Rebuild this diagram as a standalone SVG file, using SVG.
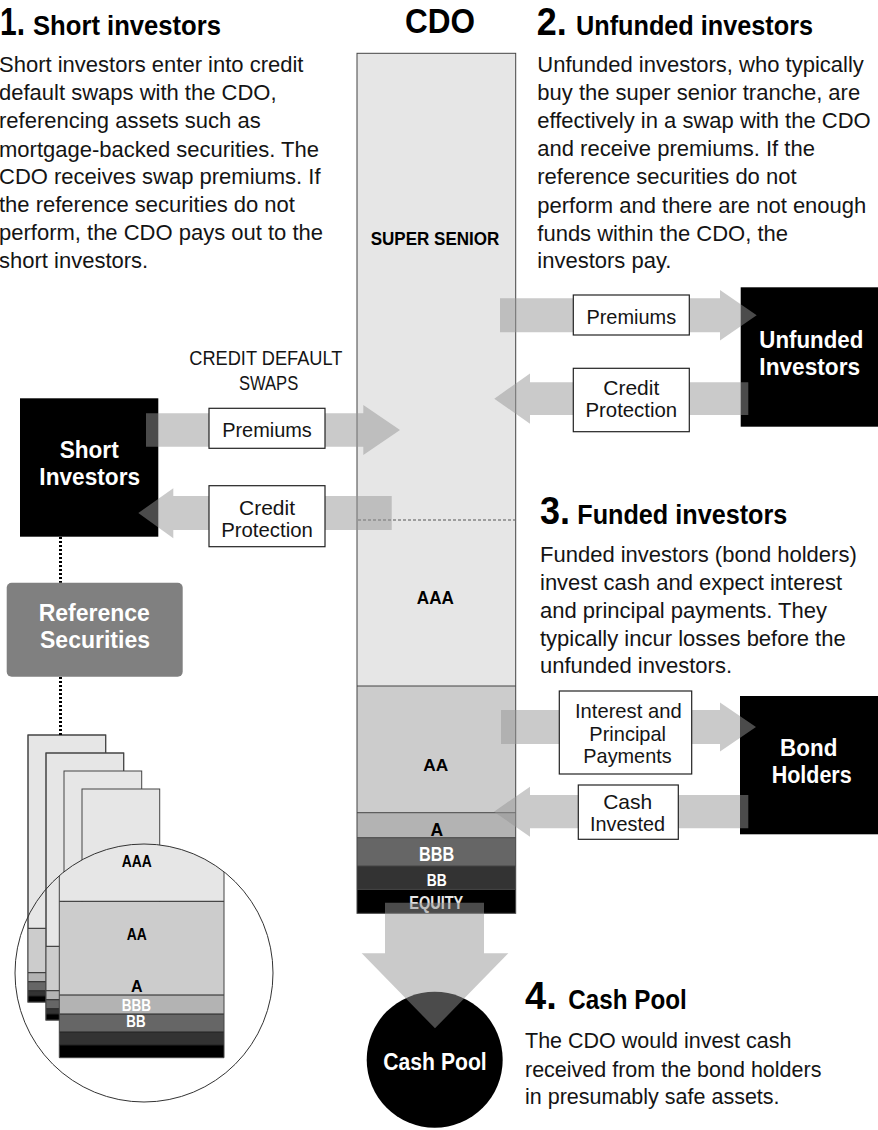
<svg xmlns="http://www.w3.org/2000/svg" width="878" height="1130" viewBox="0 0 878 1130">
<defs>
<style>
.body{font-family:"Liberation Sans",Arial,sans-serif;font-size:22px;fill:#141414}
.head{font-family:"Liberation Sans",Arial,sans-serif;font-weight:bold;font-size:28px;fill:#000}
.num{font-family:"Liberation Sans",Arial,sans-serif;font-weight:bold;font-size:38px;fill:#000}
.lbl{font-family:"Liberation Sans",Arial,sans-serif;font-size:21px;fill:#141414;text-anchor:middle}
.caps{font-family:"Liberation Sans",Arial,sans-serif;font-size:20px;fill:#141414;text-anchor:middle}
.nt{font-family:"Liberation Sans",Arial,sans-serif;font-weight:bold;font-size:23px;fill:#fff;text-anchor:middle}
.tr{font-family:"Liberation Sans",Arial,sans-serif;font-weight:bold;text-anchor:middle;fill:#000}
.arrow{fill:#969696;fill-opacity:0.5}
.lbox{fill:#fff;stroke:#222;stroke-width:1.2}
.tline{stroke:#444;stroke-width:1;fill:none}
.pg{stroke:#444;stroke-width:1;fill:#e6e6e6}
.dots{stroke:#000;stroke-width:3;stroke-dasharray:2 2;fill:none}
</style>
<clipPath id="lens"><circle cx="144" cy="973" r="129"/></clipPath>
</defs>
<rect width="878" height="1130" fill="#fff"/>

<g id="section1">
<text class="num" x="0" y="35" textLength="25" lengthAdjust="spacingAndGlyphs">1.</text>
<text class="head" x="33" y="35" textLength="188" lengthAdjust="spacingAndGlyphs">Short investors</text>
<text class="body">
<tspan x="-1" y="71.7">Short investors enter into credit</tspan>
<tspan x="-1" y="100">default swaps with the CDO,</tspan>
<tspan x="-1" y="128.3">referencing assets such as</tspan>
<tspan x="-1" y="156.7">mortgage-backed securities. The</tspan>
<tspan x="-1" y="184.3">CDO receives swap premiums. If</tspan>
<tspan x="-1" y="212.3">the reference securities do not</tspan>
<tspan x="-1" y="240.3">perform, the CDO pays out to the</tspan>
<tspan x="-1" y="268.3">short investors.</tspan>
</text>
</g>

<g id="section2">
<text class="num" x="536.7" y="35" textLength="30" lengthAdjust="spacingAndGlyphs">2.</text>
<text class="head" x="576" y="35" textLength="237" lengthAdjust="spacingAndGlyphs">Unfunded investors</text>
<text class="body">
<tspan x="537.3" y="71.7">Unfunded investors, who typically</tspan>
<tspan x="537.3" y="100">buy the super senior tranche, are</tspan>
<tspan x="537.3" y="128.3">effectively in a swap with the CDO</tspan>
<tspan x="537.3" y="156.3">and receive premiums. If the</tspan>
<tspan x="537.3" y="184.3">reference securities do not</tspan>
<tspan x="537.3" y="212.7">perform and there are not enough</tspan>
<tspan x="537.3" y="240.7">funds within the CDO, the</tspan>
<tspan x="537.3" y="268.3">investors pay.</tspan>
</text>
</g>

<g id="section3">
<text class="num" x="540" y="524.3" textLength="30" lengthAdjust="spacingAndGlyphs">3.</text>
<text class="head" x="577.3" y="524.3" textLength="210" lengthAdjust="spacingAndGlyphs">Funded investors</text>
<text class="body">
<tspan x="540" y="561.7">Funded investors (bond holders)</tspan>
<tspan x="540" y="590">invest cash and expect interest</tspan>
<tspan x="540" y="618.3">and principal payments. They</tspan>
<tspan x="540" y="645.7">typically incur losses before the</tspan>
<tspan x="540" y="673.3">unfunded investors.</tspan>
</text>
</g>

<g id="section4">
<text class="num" x="525" y="1009.3" textLength="31.7" lengthAdjust="spacingAndGlyphs">4.</text>
<text class="head" x="568.3" y="1009.3" textLength="118.4" lengthAdjust="spacingAndGlyphs">Cash Pool</text>
<text class="body" style="font-size:21.5px">
<tspan x="525" y="1048.3">The CDO would invest cash</tspan>
<tspan x="525" y="1076.5">received from the bond holders</tspan>
<tspan x="525" y="1104.3">in presumably safe assets.</tspan>
</text>
</g>

<g id="cdo">
<text class="head" x="405" y="33.3" style="font-size:35px" textLength="70" lengthAdjust="spacingAndGlyphs">CDO</text>
<rect x="357" y="53.3" width="158.7" height="632.7" fill="#e6e6e6"/>
<rect x="357" y="686" width="158.7" height="126.7" fill="#cccccc"/>
<rect x="357" y="812.7" width="158.7" height="25" fill="#b3b3b3"/>
<rect x="357" y="837.7" width="158.7" height="28.3" fill="#666666"/>
<rect x="357" y="866" width="158.7" height="23.3" fill="#333333"/>
<rect x="357" y="889.3" width="158.7" height="24" fill="#000000"/>
<line class="tline" x1="357" y1="686" x2="515.7" y2="686"/>
<line class="tline" x1="357" y1="812.7" x2="515.7" y2="812.7"/>
<line class="tline" x1="357" y1="837.7" x2="515.7" y2="837.7"/>
<line class="tline" x1="357" y1="866" x2="515.7" y2="866"/>
<line class="tline" x1="357" y1="889.3" x2="515.7" y2="889.3"/>
<line x1="358" y1="520" x2="515" y2="520" stroke="#555" stroke-width="1" stroke-dasharray="3 2"/>
<rect class="tline" x="357" y="53.3" width="158.7" height="860"/>
<text class="tr" x="435" y="245" style="font-size:19px" textLength="128.6" lengthAdjust="spacingAndGlyphs">SUPER SENIOR</text>
<text class="tr" x="435.3" y="604.3" style="font-size:19px" textLength="37" lengthAdjust="spacingAndGlyphs">AAA</text>
<text class="tr" x="435.8" y="771" style="font-size:17px" textLength="25" lengthAdjust="spacingAndGlyphs">AA</text>
<text class="tr" x="436.7" y="836" style="font-size:17.5px">A</text>
<text class="tr" x="436.7" y="861" style="font-size:20px;fill:#fff" textLength="35.3" lengthAdjust="spacingAndGlyphs">BBB</text>
<text class="tr" x="436.7" y="885.7" style="font-size:17px;fill:#fff" textLength="20" lengthAdjust="spacingAndGlyphs">BB</text>
<text class="tr" x="436.3" y="909.3" style="font-size:18.5px;fill:#e6e6e6" textLength="54" lengthAdjust="spacingAndGlyphs">EQUITY</text>
</g>

<g id="short-investors">
<rect x="20" y="398.3" width="138.3" height="138.4" fill="#000"/>
<text class="nt" x="89.2" y="458.3" textLength="59" lengthAdjust="spacingAndGlyphs">Short</text>
<text class="nt" x="89.7" y="485" textLength="100.7" lengthAdjust="spacingAndGlyphs">Investors</text>
</g>

<g id="unfunded-investors">
<rect x="740.7" y="287.3" width="137.3" height="139.4" fill="#000"/>
<text class="nt" x="811.3" y="348.3" textLength="104" lengthAdjust="spacingAndGlyphs">Unfunded</text>
<text class="nt" x="809.7" y="375" textLength="100.7" lengthAdjust="spacingAndGlyphs">Investors</text>
</g>

<g id="bond-holders">
<rect x="740" y="696" width="138" height="138.3" fill="#000"/>
<text class="nt" x="808.7" y="756" textLength="57.3" lengthAdjust="spacingAndGlyphs">Bond</text>
<text class="nt" x="811.7" y="782.7" textLength="80" lengthAdjust="spacingAndGlyphs">Holders</text>
</g>

<g id="reference-securities">
<rect x="6.7" y="582.7" width="176" height="94" rx="5" fill="#808080"/>
<text class="nt" x="94.3" y="621">Reference</text>
<text class="nt" x="95" y="648.3">Securities</text>
</g>

<g id="cash-pool">
<circle cx="434.7" cy="1059.7" r="68" fill="#000"/>
<text class="nt" x="435" y="1070" textLength="103.4" lengthAdjust="spacingAndGlyphs">Cash Pool</text>
</g>

<g id="pool-securities">
<g>
<rect class="pg" x="28" y="735" width="77.7" height="267"/>
<rect x="28" y="928.3" width="77.7" height="44.4" fill="#cccccc"/>
<rect x="28" y="972.7" width="77.7" height="9" fill="#b3b3b3"/>
<rect x="28" y="981.7" width="77.7" height="9" fill="#666666"/>
<rect x="28" y="990.7" width="77.7" height="5.3" fill="#333333"/>
<rect x="28" y="996" width="77.7" height="6" fill="#000"/>
<path d="M28 928.3H105.7M28 972.7H105.7M28 981.7H105.7M28 990.7H105.7M28 996H105.7" stroke="#222" stroke-width="1" fill="none"/>
<rect x="28" y="735" width="77.7" height="267" fill="none" stroke="#444" stroke-width="1"/>
</g>
<g>
<rect class="pg" x="46" y="753" width="77.7" height="267"/>
<rect x="46" y="946.3" width="77.7" height="44.4" fill="#cccccc"/>
<rect x="46" y="990.7" width="77.7" height="9" fill="#b3b3b3"/>
<rect x="46" y="999.7" width="77.7" height="9" fill="#666666"/>
<rect x="46" y="1008.7" width="77.7" height="5.3" fill="#333333"/>
<rect x="46" y="1014" width="77.7" height="6" fill="#000"/>
<path d="M46 946.3H123.7M46 990.7H123.7M46 999.7H123.7M46 1008.7H123.7M46 1014H123.7" stroke="#222" stroke-width="1" fill="none"/>
<rect x="46" y="753" width="77.7" height="267" fill="none" stroke="#444" stroke-width="1"/>
</g>
<g>
<rect class="pg" x="64" y="771" width="77.7" height="267"/>
</g>
<g>
<rect class="pg" x="82" y="789" width="77.7" height="267"/>
</g>
<g clip-path="url(#lens)">
<rect x="59.3" y="780" width="164.7" height="121.3" fill="#e6e6e6"/>
<rect x="59.3" y="901.3" width="164.7" height="93.7" fill="#cccccc"/>
<rect x="59.3" y="995" width="164.7" height="19" fill="#b3b3b3"/>
<rect x="59.3" y="1014" width="164.7" height="18" fill="#666666"/>
<rect x="59.3" y="1032" width="164.7" height="13" fill="#333333"/>
<rect x="59.3" y="1045" width="164.7" height="12.7" fill="#000"/>
<path d="M59.3 901.3H224M59.3 995H224M59.3 1014H224M59.3 1032H224M59.3 1045H224" stroke="#222" stroke-width="1" fill="none"/>
<path d="M59.3 780V1057.7H224V780" stroke="#444" stroke-width="1" fill="none"/>
<text class="tr" x="136.7" y="867.3" style="font-size:16px" textLength="30" lengthAdjust="spacingAndGlyphs">AAA</text>
<text class="tr" x="136.7" y="940" style="font-size:16px" textLength="20" lengthAdjust="spacingAndGlyphs">AA</text>
<text class="tr" x="136.7" y="991.7" style="font-size:16px">A</text>
<text class="tr" x="136.3" y="1010.7" style="font-size:16px;fill:#fff" textLength="29.3" lengthAdjust="spacingAndGlyphs">BBB</text>
<text class="tr" x="136" y="1027.3" style="font-size:16px;fill:#fff" textLength="19.3" lengthAdjust="spacingAndGlyphs">BB</text>
</g>
<circle cx="144" cy="973" r="129" fill="none" stroke="#333" stroke-width="1"/>
</g>

<g id="connectors">
<line class="dots" x1="60.5" y1="537" x2="60.5" y2="582.7"/>
<line class="dots" x1="60.5" y1="677" x2="60.5" y2="735"/>

<polygon class="arrow" points="146,413.3 363.3,413.3 363.3,405 400,430 363.3,455 363.3,446.7 146,446.7"/>
<rect class="lbox" x="209" y="408.3" width="116" height="40"/>
<text class="lbl" x="267" y="436.7" textLength="89.7" lengthAdjust="spacingAndGlyphs">Premiums</text>

<polygon class="arrow" points="391.7,496 173.3,496 173.3,488.3 138.3,513 173.3,538.3 173.3,530 391.7,530"/>
<rect class="lbox" x="209" y="485.7" width="116" height="61"/>
<text class="lbl" x="267" y="515">Credit</text>
<text class="lbl" x="267" y="536.7" textLength="91.7" lengthAdjust="spacingAndGlyphs">Protection</text>

<text class="caps" x="265.8" y="365" textLength="153" lengthAdjust="spacingAndGlyphs">CREDIT DEFAULT</text>
<text class="caps" x="268.6" y="390" textLength="59.3" lengthAdjust="spacingAndGlyphs">SWAPS</text>

<polygon class="arrow" points="500,298.3 720,298.3 720,290 756.7,315.3 720,340.5 720,332.3 500,332.3"/>
<rect class="lbox" x="573.3" y="295" width="116" height="40"/>
<text class="lbl" x="631.3" y="324" textLength="89.7" lengthAdjust="spacingAndGlyphs">Premiums</text>

<polygon class="arrow" points="748.3,382.3 530,382.3 530,373.5 494.3,398.7 530,423.8 530,415 748.3,415"/>
<rect class="lbox" x="573.3" y="368.3" width="116" height="63.4"/>
<text class="lbl" x="631.3" y="395">Credit</text>
<text class="lbl" x="631.3" y="417.3" textLength="91.7" lengthAdjust="spacingAndGlyphs">Protection</text>

<polygon class="arrow" points="501,710 720,710 720,702.5 756,727 720,751.5 720,744 501,744"/>
<rect class="lbox" x="559.3" y="691" width="132.4" height="83"/>
<text class="lbl" x="628.3" y="718.3" textLength="106.7" lengthAdjust="spacingAndGlyphs">Interest and</text>
<text class="lbl" x="627.7" y="741" textLength="76.7" lengthAdjust="spacingAndGlyphs">Principal</text>
<text class="lbl" x="627.5" y="763.3" textLength="88.3" lengthAdjust="spacingAndGlyphs">Payments</text>

<polygon class="arrow" points="748.3,795 530,795 530,786.7 494,811.7 530,836.7 530,828.3 748.3,828.3"/>
<rect class="lbox" x="578.3" y="785" width="100" height="54.3"/>
<text class="lbl" x="627.7" y="809.3">Cash</text>
<text class="lbl" x="627.5" y="830.7" textLength="75" lengthAdjust="spacingAndGlyphs">Invested</text>

<polygon class="arrow" points="385,902.7 484,902.7 484,953.3 508.3,953.3 435,1028.3 361.7,953.3 385,953.3"/>
</g>
</svg>
